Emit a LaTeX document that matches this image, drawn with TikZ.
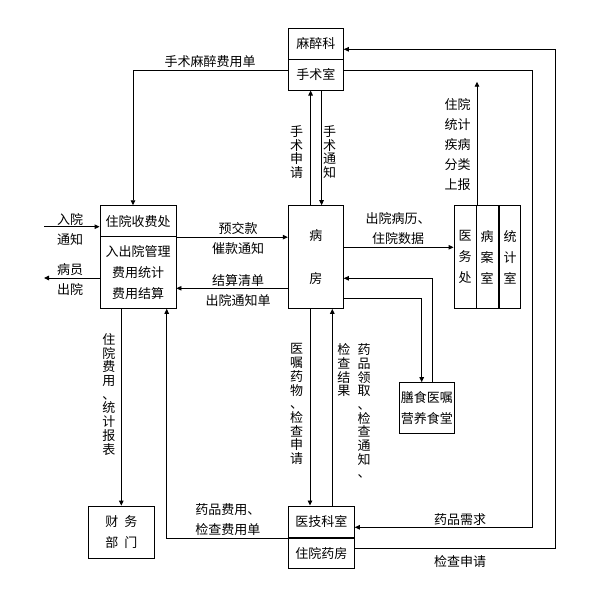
\documentclass[tikz,border=0pt]{standalone}
\usepackage{fontspec}
\setmainfont{Noto Sans CJK SC}
\usetikzlibrary{arrows.meta}

\begin{document}
\begin{tikzpicture}[x=1pt, y=-1pt, line width=0.9pt]
  \tikzstyle{box} = [draw, inner sep=0pt, align=center,
  font=\fontsize{13}{21}\selectfont]
  \tikzstyle{lbl} = [inner sep=0pt, align=center, font=\fontsize{13}{20}\selectfont]
  \tikzstyle{vlbl} = [inner sep=0pt, align=center, anchor=north,
  font=\fontsize{13}{13.7}\selectfont]
  \tikzstyle{arr} = [-{Triangle[length=5pt, width=4.5pt]}]

  \useasboundingbox (0,0) rectangle (589,594);

  % Define nodes
  \node[box, minimum width=76pt, minimum height=31pt] (sfTop) at (138,221.2) {住院收费处};
  \node[box, minimum width=76pt, minimum height=71.6pt] (sfBot) at (138,272.5) {入出院管理\\费用统计\\费用结算};
  \node[box, minimum width=55pt, minimum height=102.7pt] (bf) at (315.8,257) {病\\[22pt]房};
  \node[box, minimum width=55pt, minimum height=31pt] (mzTop) at (315.8,43.8) {麻醉科};
  \node[box, minimum width=55pt, minimum height=30.7pt] (mzBot) at (315.8,74.7) {手术室};
  \node[box, minimum width=22pt, minimum height=102.7pt] (yw) at (465,257) {医\\务\\处};
  \node[box, minimum width=22.5pt, minimum height=102.7pt] (ba) at (487.2,257) {病\\案\\室};
  \node[box, minimum width=21.2pt, minimum height=102.7pt] (tj) at (510.1,257) {统\\计\\室};
  \node[box, minimum width=55pt, minimum height=50.7pt] (ss) at (426.8,408) {膳食医嘱\\营养食堂};
  \node[box, minimum width=66pt, minimum height=31.7pt] (yjTop) at (321.3,521.8) {医技科室};
  \node[box, minimum width=66pt, minimum height=30.6pt] (yjBot) at (321.3,553) {住院药房};
  \node[box, minimum width=66pt, minimum height=52.3pt] (cw) at (121.3,532.2) {财\hspace{6pt}务\\部\hspace{6pt}门};
  \draw[line width=2pt] (yjTop.south west) -- (yjTop.south east);

  % free ends
  \coordinate (inA) at (44,226.7);
  \coordinate (outA) at (44,278);
  \coordinate (sb) at (477,81.7);
  \coordinate (r1) at (555,49.3);
  \coordinate (r2) at (532.3,70.5);

  % connectors
  \draw[arr] ([yshift=4pt]mzBot.west) -| ([xshift=-5pt]sfTop.north);
  \draw[arr] (inA) -- (inA -| sfTop.west);
  \draw[arr] (outA -| sfBot.west) -- (outA);
  \draw[arr] (sfTop.south east) -- (sfTop.south east -| bf.west);
  \draw[arr] ([yshift=-31.3pt]bf.west) -- ([yshift=-31.3pt]bf.west -| sfBot.east);
  \draw[arr] ([xshift=-5.2pt]bf.north) -- ([xshift=-5.2pt]mzBot.south);
  \draw[arr] ([xshift=5.8pt]mzBot.south) -- ([xshift=5.8pt]bf.north);
  \draw[arr] ([yshift=9.7pt]bf.east) -- ([yshift=9.7pt]bf.east -| yw.west);
  \draw[arr] (sb |- ba.north) -- (sb);
  \draw[arr] ([yshift=4.7pt]yjBot.east) -| (r1) -- (r1 -| mzTop.east);
  \draw[arr] (r2 -| mzBot.east) -- (r2) |- ([yshift=-5.5pt]yjTop.east);
  \draw[arr] ([yshift=-41.3pt]bf.east) -| ([xshift=-5.1pt]ss.north);
  \draw[arr] ([xshift=5.5pt]ss.north) |- ([yshift=-21.3pt]bf.east);
  \draw[arr] ([xshift=-5.8pt]bf.south) -- ([xshift=-5.8pt]bf.south |- yjTop.north);
  \draw[arr] ([xshift=11pt]yjTop.north) -- ([xshift=11pt]yjTop.north |- bf.south);
  \draw[arr] (yjTop.south west) -| ([xshift=28.7pt]sfBot.south);
  \draw[arr] (cw.north |- sfBot.south) -- (cw.north);

  % labels
  \node[lbl] (lSm) at (210,61.7) {手术麻醉费用单};
  \node[lbl] (lRy) at (70,229) {入院\\通知};
  \node[lbl] (lBy) at (70,279.3) {病员\\出院};
  \node[lbl] (lYj) at (238,238.5) {预交款\\催款通知};
  \node[lbl] (lJs) at (238,290.8) {结算清单\\出院通知单};
  \node[lbl] (lCy) at (398,229) {出院病历、\\住院数据};
  \node[lbl, align=right, anchor=north east] (lZy) at (471,98) {住院\\统计\\疾病\\分类\\上报};
  \node[lbl, align=left, anchor=west] (lYp) at (195,519.7) {药品费用、\\检查费用单};
  \node[lbl] (lXq) at (460,520) {药品需求};
  \node[lbl] (lJc) at (460,561.7) {检查申请};
  \node[vlbl] (vSq) at (296.7,125) {手\\术\\申\\请};
  \node[vlbl] (vTz) at (329.7,125) {手\\术\\通\\知};
  \node[vlbl] (vFy) at (108.8,333) {住\\院\\费\\用\\、\\统\\计\\报\\表};
  \node[vlbl] (vYz) at (296.7,343.3) {医\\嘱\\药\\物\\、\\检\\查\\申\\请};
  \node[vlbl] (vJg) at (343.8,343.3) {检\\查\\结\\果};
  \node[vlbl] (vLq) at (364,343.3) {药\\品\\领\\取\\、\\检\\查\\通\\知\\、};
\end{tikzpicture}
\end{document}
